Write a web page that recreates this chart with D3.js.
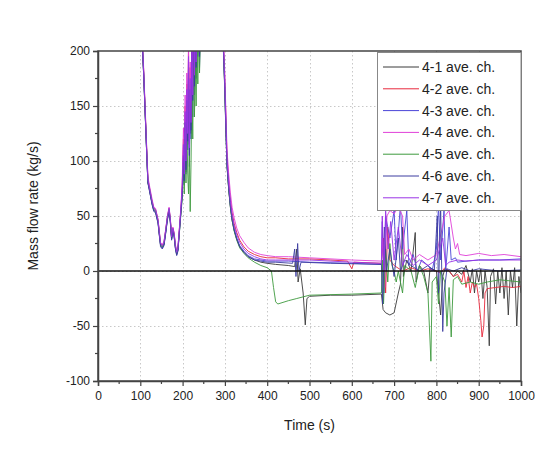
<!DOCTYPE html>
<html><head><meta charset="utf-8">
<script src="https://cdn.jsdelivr.net/npm/d3@7"></script>
<style>body{margin:0;background:#fff;} svg{display:block;font-family:Arial,"Liberation Sans",sans-serif;}</style>
</head><body><svg id="c" width="547" height="451"></svg>
<script>
const seriesNames = ["4-1 ave. ch.","4-2 ave. ch.","4-3 ave. ch.","4-4 ave. ch.","4-5 ave. ch.","4-6 ave. ch.","4-7 ave. ch."];
const seriesColors = ["#3a3a3a","#e8283c","#4b45d8","#e040d8","#3e9a3e","#3c3ca0","#9a34e6"];
const xTicks = [0,100,200,300,400,500,600,700,800,900,1000];
const yTicks = [-100,-50,0,50,100,150,200];

// shared time samples for the first part (t <= 400 s)
const tHead = [95,104,108,111,114,116,118,121,124,128,132,136,139,142,145,148,152,156,160,164,168,171,174,177,180,183,186,189,192,196,199,202,204,206,208,210,212,214,216,218,220,222,224,226,228,230,232,234,236,238,240,244,248,252,256,270,290,296,299,302,305,309,313,317,322,328,335,345,355,370,385,400];
const head1 = [250,210,178,148,118,98,80,75,69,61,55,54,49,44,33,23,21,24,35,47,55,45,29,37,32,21,15,19,34,54,70,100,80,130,90,150,115,180,110,160,125,200,160,230,175,220,190,245,210,255,200,250,230,270,300,320,300,205,172,132,95,74,58,46,37,29,22,17,13,10,8,7];
const head2 = [255,212,182,152,122,102,84,77,71,63,57,56,51,46,35,25,23,26,37,49,57,47,31,39,34,23,17,21,36,56,75,120,90,150,105,170,130,200,115,185,140,220,165,250,180,240,195,260,215,270,205,265,235,285,300,320,300,212,183,144,104,81,65,53,43,35,28,22,18,15,13,12];
const head3 = [245,214,179,149,119,99,81,75,69,61,55,54,49,44,33,23,21,24,35,47,55,45,29,37,32,21,15,19,34,54,70,95,78,125,88,150,110,175,95,160,120,195,140,225,160,215,175,240,195,250,185,255,215,275,300,320,300,208,177,137,97,76,60,48,38,30,23,18,14,11,10,9];
const head4 = [265,218,184,154,124,104,86,79,73,65,58,57,52,47,36,26,24,27,38,50,58,48,32,40,35,24,18,22,37,58,80,130,95,160,110,180,135,210,120,190,150,230,170,260,185,250,200,270,220,280,210,275,240,290,300,320,300,215,188,150,110,88,71,58,48,39,32,26,21,17,15,14];
const head5 = [250,213,179,149,119,99,81,76,70,62,56,55,50,45,34,24,22,25,36,48,56,46,30,38,33,22,16,20,33,52,65,95,70,120,80,140,90,70,110,54,100,170,120,200,140,190,150,220,170,230,180,240,210,265,300,320,300,206,175,135,96,74,58,46,36,28,21,16,12,8,5,3];
const head6 = [248,212,178,148,118,98,80,74,68,60,54,53,48,43,32,22,20,23,34,46,54,44,28,36,31,20,14,18,33,53,68,105,82,135,92,155,118,185,105,165,128,205,155,235,168,225,185,248,205,258,195,258,225,278,300,320,300,206,174,134,96,75,59,47,37,29,22,17,13,10,9,8];
const head7 = [258,216,181,151,121,101,83,77,71,63,57,56,51,46,35,25,23,26,37,49,57,47,31,39,34,23,17,21,36,57,76,115,88,145,100,165,125,195,112,175,135,215,160,245,178,235,190,255,212,265,200,262,232,282,300,320,300,210,180,142,102,80,63,51,41,33,26,20,16,13,11,10];

// [time, value] samples after 400 s
const tail1 = [[420,6],[450,5],[465,4],[470,20],[473,-10],[478,2],[485,-20],[490,-49],[494,-25],[500,-23],[550,-22],[600,-22],[670,-21],[674,-35],[680,-38],[690,-40],[700,-38],[710,-20],[715,-12],[720,40],[722,-5],[730,10],[740,0],[750,35],[752,-10],[760,5],[770,0],[780,-20],[785,3],[800,0],[810,-40],[815,-5],[820,2],[830,0],[840,-5],[850,0],[860,-3],[870,5],[880,-10],[885,2],[890,-20],[895,0],[900,-10],[905,2],[910,-25],[915,0],[920,-15],[925,-68],[928,-5],[935,2],[940,-30],[945,0],[950,-20],[955,3],[960,-25],[965,0],[970,-40],[975,0],[980,-15],[985,3],[990,-50],[995,-5],[1000,-20]];
const tail2 = [[420,12],[450,11],[500,11],[550,10],[590,9],[600,2],[605,8],[670,7],[675,30],[680,-20],[685,40],[690,10],[700,5],[720,0],[740,3],[760,0],[780,2],[800,0],[810,-2],[820,3],[830,0],[840,-5],[850,-3],[860,-10],[865,0],[870,-15],[875,-5],[880,-20],[885,-10],[890,-15],[895,-12],[900,-25],[905,-45],[908,-60],[912,-50],[915,-20],[920,-16],[940,-15],[960,-14],[980,-15],[1000,-14]];
const tail3 = [[420,9],[450,9],[500,8],[600,7],[670,6],[672,45],[676,-20],[680,50],[690,30],[700,55],[705,10],[715,60],[720,20],[730,55],[735,5],[745,15],[755,0],[765,10],[780,5],[790,0],[800,20],[805,60],[810,10],[818,55],[822,0],[830,40],[835,10],[845,12],[850,8],[870,9],[900,10],[950,10],[1000,11]];
const tail4 = [[420,13],[450,13],[500,12],[600,10],[670,9],[673,30],[678,-15],[683,50],[690,55],[700,52],[710,58],[720,50],[725,15],[735,20],[745,10],[760,15],[780,10],[800,15],[820,50],[830,55],[840,30],[845,20],[850,25],[855,15],[870,14],[900,16],[930,14],[960,15],[1000,13]];
const tail5 = [[410,0],[415,-15],[420,-28],[425,-30],[450,-27],[470,-25],[480,-24],[500,-22],[600,-21],[670,-20],[672,10],[675,-30],[680,20],[685,-10],[690,25],[695,5],[700,0],[705,-10],[710,0],[720,-20],[725,5],[740,0],[750,-15],[760,5],[770,-5],[780,-20],[787,-82],[790,-10],[800,-5],[805,-30],[810,0],[820,-10],[825,-50],[830,-15],[835,-60],[840,-8],[850,-5],[860,-12],[880,-10],[900,-12],[920,-10],[950,-8],[1000,-10]];
const tail6 = [[420,8],[460,7],[465,20],[468,-5],[472,25],[475,0],[480,8],[550,7],[670,6],[673,-30],[677,40],[682,0],[690,20],[700,-5],[710,30],[715,0],[725,10],[740,5],[760,0],[780,5],[795,0],[802,50],[805,-20],[810,60],[815,-55],[818,-20],[825,2],[840,0],[860,3],[880,0],[900,2],[950,0],[1000,1]];
const tail7 = [[420,10],[450,10],[500,10],[600,8],[670,7],[672,50],[676,0],[680,55],[686,20],[692,45],[700,10],[710,40],[720,5],[730,15],[745,5],[760,10],[780,5],[800,10],[815,30],[822,5],[830,8],[850,10],[870,9],[900,10],[950,10],[1000,10]];

const heads = [head1,head2,head3,head4,head5,head6,head7];
const tails = [tail1,tail2,tail3,tail4,tail5,tail6,tail7];

const L = 98, R = 521, T = 51, B = 381;
const svg = d3.select("#c");
const x = d3.scaleLinear().domain([0,1000]).range([L,R]);
const y = d3.scaleLinear().domain([-100,200]).range([B,T]);

svg.append("defs").append("clipPath").attr("id","clip").append("rect")
  .attr("x",L).attr("y",T).attr("width",R-L).attr("height",B-T);

// grid
const grid = svg.append("g").attr("stroke","#c8c8c8").attr("stroke-width",1).attr("stroke-dasharray","1.5,2.5");
xTicks.slice(1,-1).forEach(t=>grid.append("line").attr("x1",Math.round(x(t))+0.5).attr("x2",Math.round(x(t))+0.5).attr("y1",T).attr("y2",B));
yTicks.slice(1,-1).forEach(t=>grid.append("line").attr("y1",Math.round(y(t))+0.5).attr("y2",Math.round(y(t))+0.5).attr("x1",L).attr("x2",R));

// series
const line = d3.line().x(d=>x(d[0])).y(d=>y(d[1]));
const plot = svg.append("g").attr("clip-path","url(#clip)");
heads.forEach((h,i)=>{
  const pts = tHead.map((t,j)=>[t,h[j]]).concat(tails[i]);
  plot.append("path").datum(pts).attr("d",line).attr("fill","none")
    .attr("stroke",seriesColors[i]).attr("stroke-width",1).attr("stroke-opacity",0.9);
});
// zero line
svg.append("line").attr("x1",L).attr("x2",R).attr("y1",y(0)).attr("y2",y(0)).attr("stroke","#111").attr("stroke-width",1.5);

// frame
svg.append("rect").attr("x",L).attr("y",T).attr("width",R-L).attr("height",B-T).attr("fill","none").attr("stroke","#444").attr("stroke-width",1.5);

// axes
const plainFmt = d => String(d);
const xAxis = d3.axisBottom(x).tickValues(xTicks).tickFormat(plainFmt).tickSize(5).tickPadding(5);
const gx = svg.append("g").attr("transform",`translate(0,${B})`).call(xAxis);
const yAxis = d3.axisLeft(y).tickValues(yTicks).tickFormat(plainFmt).tickSize(5).tickPadding(3);
const gy = svg.append("g").attr("transform",`translate(${L},0)`).call(yAxis);
[gx,gy].forEach(g=>{
  g.select(".domain").attr("stroke","#444").attr("stroke-width",1.5);
  g.selectAll(".tick line").attr("stroke","#444").attr("stroke-width",1.2);
  g.selectAll(".tick text").attr("fill","#222").attr("font-size",12).attr("font-family","Arial, 'Liberation Sans', sans-serif");
});
// minor ticks
const minorX = xTicks.slice(0,-1).map(t=>t+50);
const minorY = yTicks.slice(0,-1).map(t=>t+25);
minorX.forEach(t=>svg.append("line").attr("x1",x(t)).attr("x2",x(t)).attr("y1",B).attr("y2",B+3).attr("stroke","#444").attr("stroke-width",1.2));
minorY.forEach(t=>svg.append("line").attr("y1",y(t)).attr("y2",y(t)).attr("x1",L).attr("x2",L-3).attr("stroke","#444").attr("stroke-width",1.2));

// titles
svg.append("text").attr("x",(L+R)/2).attr("y",430).attr("text-anchor","middle").attr("font-size",14).attr("fill","#222").text("Time (s)");
svg.append("text").attr("transform",`translate(38,${(T+B)/2 - 10}) rotate(-90)`).attr("text-anchor","middle").attr("font-size",14).attr("fill","#222").text("Mass flow rate (kg/s)");

// legend
const lg = svg.append("g");
lg.append("rect").attr("x",377.5).attr("y",52.5).attr("width",R-377.5).attr("height",158).attr("fill","#fff").attr("stroke","#888").attr("stroke-width",1);
seriesNames.forEach((n,i)=>{
  const yy = 67 + i*21.8;
  lg.append("line").attr("x1",383).attr("x2",419).attr("y1",yy).attr("y2",yy).attr("stroke",seriesColors[i]).attr("stroke-width",1);
  lg.append("text").attr("x",422).attr("y",yy+5).attr("font-size",14).attr("fill","#222").text(n);
});
</script></body></html>
